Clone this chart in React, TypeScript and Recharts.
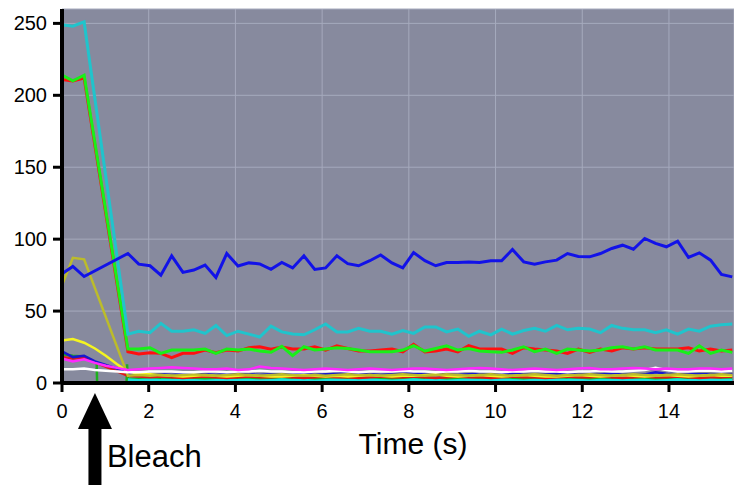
import React from 'react';
import { LineChart, Line, XAxis, YAxis, CartesianGrid, ReferenceLine } from 'recharts';

// frame times (s)
const times = [
  0, 0.25, 0.51, 0.76, 1.01, 1.27, 1.52, 1.77, 2.03, 2.28,
  2.53, 2.79, 3.04, 3.3, 3.55, 3.8, 4.06, 4.31, 4.56, 4.82,
  5.07, 5.32, 5.58, 5.83, 6.08, 6.34, 6.59, 6.84, 7.1, 7.35,
  7.61, 7.86, 8.11, 8.37, 8.62, 8.87, 9.13, 9.38, 9.63, 9.89,
  10.14, 10.39, 10.65, 10.9, 11.15, 11.41, 11.66, 11.91, 12.17, 12.42,
  12.68, 12.93, 13.18, 13.44, 13.69, 13.94, 14.2, 14.45, 14.7, 14.96,
  15.21, 15.46,
];

const blue = [
  76, 81, 74, null, null, null, 90, 82.6, 81.5, 75,
  88.4, 76.9, 78.5, 82, 73.4, 90, 81.3, 83.5, 82.8, 79,
  83.8, 80, 88.4, 79, 80, 88.4, 83, 81.5, 85, 89,
  83.5, 80, 90.7, 85, 81.5, 83.8, 83.8, 84.2, 83.8, 85,
  85, 92.8, 84.2, 82.6, 84.2, 85.4, 90, 88, 87.7, 90,
  93.5, 95.8, 93, 100.5, 97, 94.7, 98.6, 87.3, 90.5, 85.4,
  75.5, 73.8,
];

const cyan = [
  249, 248, 251, null, null, null, 34, 36, 35, 41.5,
  36, 36, 37, 34.5, 40, 33, 36, 34, 32, 39.5,
  35.5, 34, 33.5, 37, 41, 35.5, 35.5, 38, 36, 36,
  34, 36.5, 34.5, 39, 39, 35.5, 37.5, 32.5, 36, 33.5,
  37.5, 34, 36.5, 38, 36, 40, 37, 38, 37.5, 35,
  40, 38, 37, 37, 35, 37, 34, 37.5, 36, 39.5,
  40.5, 41,
];

const red = [
  211, 210, 212, null, null, null, 21.7, 20.1, 21, 20.6,
  17.6, 20.6, 20.6, 22.9, 21, 22.9, 22.2, 24.5, 25.2, 23.5,
  25, 23.6, 23.6, 25.2, 22.9, 25.9, 24, 22.2, 22.2, 22.9,
  23.6, 21.7, 26.9, 21.5, 22.2, 23.6, 21.7, 25.9, 23.6, 23.6,
  23.6, 20.6, 24.5, 23.6, 22.9, 22.2, 20.6, 23.6, 21.3, 23.6,
  22.2, 24.5, 23.6, 24.5, 23.6, 23.6, 23.6, 24.5, 22.2, 23.6,
  22.2, 22.9,
];

const green = [
  214, 210, 214, null, null, null, 23.6, 23.6, 24.5, 20.6,
  22.9, 22.9, 22.9, 23.6, 20.6, 23.6, 22.9, 23.6, 22.2, 21.4,
  25.5, 19, 25.2, 22.9, 23.6, 24.5, 24, 22.9, 21.7, 21.7,
  21.7, 22.9, 25.9, 22.2, 24, 25.9, 22.9, 24, 22.2, 21.7,
  21.3, 22.9, 25.2, 21.7, 23.6, 20.6, 23.6, 22.9, 22.2, 22.9,
  24.5, 25.2, 23.6, 25.2, 22.9, 22.9, 22.9, 20.6, 25.9, 20.6,
  22.9, 21.3,
];

const olive = [
  68, 87, 86, null, null, null, 5, 5.5, 5, 5.5,
  5, 5.5, 6, 5.5, 5, 5.5, 6, 5.5, 5, 5.5,
  6, 5.5, 5, 5.5, 5, 5.5, 6, 5.5, 5.5, 5,
  5.5, 6, 5.5, 5, 5.5, 6, 5.5, 5, 5.5, 6,
  5.5, 5, 5.5, 6, 5.5, 5, 5.5, 5.5, 6, 5.5,
  5, 5.5, 6, 5.5, 5, 5.5, 6, 5.5, 5, 5.5,
  6, 5.5,
];

const yellow = [
  29.5, 30.5, 28, 24, 19, 13, 8, 6.5, 6, 5.5,
  5, 4.5, 5, 5.5, 5, 4.5, 5, 5.5, 5, 4.5,
  4.5, 5, 5.5, 5, 4.5, 5, 4.5, 5, 5.5, 5,
  4.5, 5, 5, 5.5, 6, 5, 4.5, 5, 5.5, 5,
  4.5, 5, 5.5, 5, 4.5, 4.5, 5, 5.5, 5, 4.5,
  5, 5.5, 5, 4.5, 5, 5.5, 5, 4.5, 5, 5.5,
  5, 5,
];

const magenta = [
  17, 15, 16.5, 14, 12, 10.5, 9, 9.5, 10, 10.5,
  11, 10.5, 10, 9.5, 9.5, 10, 9, 9.5, 11.5, 10.5,
  10, 9.5, 9, 9.5, 10, 9.5, 9, 9.5, 10, 9.5,
  9, 9.5, 10, 10, 9.5, 9, 9.5, 10, 10.5, 10,
  9.5, 9, 9.5, 10, 9.5, 9, 9.5, 10, 10.5, 9.5,
  9.5, 10, 10.5, 10, 9.5, 10, 9.5, 9.5, 10, 10,
  9.5, 10,
];

const white = [
  9.5, 9.5, 10, 9, 8.5, 8, 7.5, 7.5, 8, 8,
  8, 7.5, 7.5, 8, 8, 7.5, 8, 8, 8.5, 8,
  8, 7.5, 7.5, 8, 8, 8.5, 8, 7.5, 8, 8,
  8, 8.5, 8, 8, 7.5, 8, 8, 8.5, 8, 8,
  7.5, 8, 8, 8.5, 8, 8, 7.5, 8, 8, 8.5,
  8, 8, 8.5, 9, 10.5, 9, 8, 8, 8.5, 8.5,
  8, 8.5,
];

const darkBlue = [
  22, 18, 19, 15, 12.5, 10, 7, 6.5, 6, 6,
  5.5, 6, 6.5, 6, 5.5, 6, 6.5, 6, 5.5, 6,
  6, 6.5, 6, 5.5, 6, 6.5, 7, 6.5, 6, 5.5,
  6, 6.5, 7, 6.5, 6, 6, 5.5, 6, 6.5, 6,
  6, 6.5, 6, 5.5, 6, 6.5, 6, 6, 6.5, 6,
  6.5, 6, 5.5, 6, 7.5, 6.5, 6, 6.5, 6, 6,
  6.5, 6,
];

const redSmall = [
  18, 17, 17.5, null, null, null, 5, 4.5, 4, 4.5,
  4, 3.5, 4, 4.5, 4, 3.5, 4, 4.5, 4, 4,
  4.5, 4, 3.5, 4, 4.5, 4, 4, 3.5, 4, 4.5,
  4, 4, 4.5, 4, 3.5, 4, 4.5, 4, 4, 3.5,
  4, 4.5, 4, 4, 3.5, 4, 4.5, 4, 4, 4.5,
  4, 3.5, 4, 4.5, 4, 4, 4.5, 4, 3.5, 4,
  4, 4.5,
];

const cyanSmall = [
  null, null, null, null, null, null, 2.5, 2, 2.5, 2,
  2, 2.5, 2, 1.5, 2, 2.5, 2, 2, 1.5, 2,
  2.5, 2, 2, 1.5, 2, 2.5, 2, 2, 2.5, 2,
  1.5, 2, 2.5, 2, 2, 1.5, 2, 2.5, 2, 2,
  2.5, 2, 1.5, 2, 2, 2.5, 2, 2, 1.5, 2,
  2, 2.5, 2, 2, 1.5, 2, 2.5, 2, 2, 2.5,
  2, 2,
];

// dark green trace has its own sample times
const darkGreenTimes = [
  0, 0.25, 0.51, 0.8, 0.81, 1.49, 1.5, 1.52, 2.03, 2.53,
  3.04, 3.55, 4.06, 4.56, 5.07, 5.58, 6.08, 6.59, 7.1, 7.61,
  8.11, 8.62, 9.13, 9.63, 10.14, 10.65, 11.15, 11.66, 12.17, 12.68,
  13.18, 13.69, 14.2, 14.7, 15.21, 15.46,
];
const darkGreen = [
  20, 19, 18.5, 14, 0, 0, 13, 3, 3, 3.5,
  3, 2.5, 3, 3.5, 3, 3, 2.5, 3, 3.5, 3,
  3, 2.5, 3, 3, 3.5, 3, 3, 2.5, 3, 3.5,
  3, 3, 3, 2.5, 3, 3,
];

const xTicks = [0, 2, 4, 6, 8, 10, 12, 14];
const yTicks = [0, 50, 100, 150, 200, 250];
const bleachTime = 0.76;

const table = times.map((t, i) => ({
  t,
  blue: blue[i],
  cyan: cyan[i],
  red: red[i],
  green: green[i],
  olive: olive[i],
  yellow: yellow[i],
  magenta: magenta[i],
  white: white[i],
  darkBlue: darkBlue[i],
  redSmall: redSmall[i],
  cyanSmall: cyanSmall[i],
}));
const darkGreenData = darkGreenTimes.map((t, i) => ({ t, dg: darkGreen[i] }));

const FONT = '"Liberation Sans", Arial, Helvetica, sans-serif';

const series: { key: string; color: string; w: number }[] = [
  { key: 'cyanSmall', color: '#18e0e0', w: 2.5 },
  { key: 'redSmall', color: '#e01818', w: 2.5 },
  { key: 'darkBlue', color: '#1818d0', w: 2.5 },
  { key: 'yellow', color: '#f4f420', w: 2.5 },
  { key: 'olive', color: '#bcbc2a', w: 2.5 },
  { key: 'white', color: '#ffffff', w: 2.5 },
  { key: 'magenta', color: '#ff28ff', w: 2.5 },
  { key: 'red', color: '#ff1010', w: 3 },
  { key: 'green', color: '#18f018', w: 3 },
  { key: 'cyan', color: '#20c4cc', w: 3 },
  { key: 'blue', color: '#1212e8', w: 3 },
];

const BleachLabel = (props: any) => {
  const vb = props.viewBox || {};
  const x = vb.x ?? 95;
  const bottom = (vb.y ?? 9) + (vb.height ?? 374);
  return (
    <g>
      <polygon
        points={`${x},${bottom + 10} ${x - 17},${bottom + 46} ${x + 17},${bottom + 46}`}
        fill="#000"
      />
      <rect x={x - 6.5} y={bottom + 45} width={13} height={80} fill="#000" />
      <text x={x + 12} y={bottom + 84} fontSize={31} fontFamily={FONT} fill="#000">
        Bleach
      </text>
    </g>
  );
};

export default function App() {
  return (
    <div style={{ position: 'absolute', left: 0, top: 0, width: 734, height: 485, background: '#fff', fontFamily: FONT }}>
      <LineChart
        width={734}
        height={485}
        data={table}
        margin={{ top: 9, right: 0, bottom: 0, left: 0 }}
      >
        <CartesianGrid
          stroke="#a6aabd"
          strokeWidth={1}
          fill="#878a9e"
          fillOpacity={1}
        />
        <XAxis
          type="number"
          dataKey="t"
          domain={[0, 15.5]}
          ticks={xTicks}
          height={102}
          tickSize={9}
          tickMargin={12}
          axisLine={{ stroke: '#000', strokeWidth: 4 }}
          tickLine={{ stroke: '#000', strokeWidth: 3 }}
          tick={{ fill: '#000', fontSize: 20, fontFamily: FONT }}
          label={{ value: 'Time (s)', position: 'insideTop', offset: 50, dx: 15, fontSize: 30, fill: '#000', fontFamily: FONT }}
        />
        <YAxis
          type="number"
          domain={[0, 260]}
          ticks={yTicks}
          width={62}
          tickSize={9}
          tickMargin={6}
          axisLine={{ stroke: '#000', strokeWidth: 4 }}
          tickLine={{ stroke: '#000', strokeWidth: 3 }}
          tick={{ fill: '#000', fontSize: 20, fontFamily: FONT }}
        />
        <Line
          data={darkGreenData}
          dataKey="dg"
          stroke="#1cb01c"
          strokeWidth={2.5}
          dot={false}
          isAnimationActive={false}
          type="linear"
        />
        {series.map((s) => (
          <Line
            key={s.key}
            dataKey={s.key}
            stroke={s.color}
            strokeWidth={s.w}
            dot={false}
            connectNulls
            isAnimationActive={false}
            type="linear"
          />
        ))}
        <ReferenceLine x={bleachTime} stroke="none" label={BleachLabel} />
      </LineChart>
    </div>
  );
}
